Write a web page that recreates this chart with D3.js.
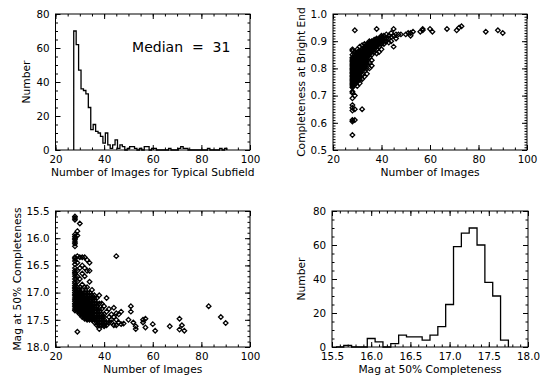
<!DOCTYPE html>
<html>
<head>
<meta charset="utf-8">
<script src="https://cdn.jsdelivr.net/npm/d3@7"></script>
<style>
  body { margin: 0; background: #fff; }
  svg text { font-family: "DejaVu Sans", sans-serif; fill: #000; }
</style>
</head>
<body>
<div id="chart"></div>
<script>
// ---- data ----
// histogram of number of images (bin centres, counts)
var nBins = d3.range(28, 91);
var nCounts = [70, 62, 47, 36, 35, 33, 25, 12, 15, 11, 10, 8, 4, 10, 3, 1, 3, 6, 1, 3,
               2, 0, 1, 2, 2, 1, 0, 1, 0, 2, 2, 0, 1, 1, 0, 0, 0, 0, 0, 1,
               0, 0, 0, 1, 2, 1, 1, 0, 0, 0, 0, 0, 0, 0, 0, 1, 0, 0, 0, 0,
               1, 0, 1];
var medianN = 31;

// histogram of mag at 50% completeness
var magBins = [15.6, 15.7, 15.8, 15.9, 16.0, 16.1, 16.2, 16.3, 16.4, 16.5, 16.6,
               16.7, 16.8, 16.9, 17.0, 17.1, 17.2, 17.3, 17.4, 17.5, 17.6, 17.7];
var magCounts = [0, 1, 0, 0, 5, 3, 0, 2, 7, 6, 6, 4, 7, 12, 25, 59, 67, 70, 60, 38, 30, 4];

// scatter: [number of images, completeness at bright end]
var brightPts = [
  [28,0.555],[28,0.605],[28,0.61],[28,0.645],[28,0.655],[28,0.665],[28,0.69],[28,0.71],[28,0.715],
  [28,0.73],[28,0.735],[28,0.74],[28,0.745],[28,0.75],[28,0.755],[28,0.76],[28,0.765],[28,0.77],
  [28,0.775],[28,0.78],[28,0.785],[28,0.79],[28,0.795],[28,0.80],[28,0.805],[28,0.81],[28,0.815],
  [28,0.82],[28,0.825],[28,0.83],[28,0.835],[28,0.84],[28,0.85],[28,0.865],[28,0.87],
  [29,0.61],[29,0.65],[29,0.70],[29,0.74],[29,0.75],[29,0.76],[29,0.77],[29,0.78],[29,0.79],
  [29,0.80],[29,0.81],[29,0.82],[29,0.83],[29,0.84],[29,0.85],[29,0.86],[29,0.94],
  [29,0.745],[29,0.755],[29,0.765],[29,0.775],[29,0.785],[29,0.795],[29,0.805],[29,0.815],
  [29,0.825],[29,0.835],[29,0.845],
  [30,0.735],[30,0.75],[30,0.76],[30,0.77],[30,0.78],[30,0.79],[30,0.80],[30,0.81],[30,0.82],
  [30,0.83],[30,0.84],[30,0.85],[30,0.86],[30,0.87],
  [30,0.755],[30,0.765],[30,0.775],[30,0.785],[30,0.795],[30,0.805],[30,0.815],[30,0.825],
  [30,0.835],[30,0.845],[30,0.855],
  [31,0.745],[31,0.76],[31,0.77],[31,0.78],[31,0.79],[31,0.80],[31,0.81],[31,0.82],[31,0.83],
  [31,0.84],[31,0.85],[31,0.86],[31,0.88],
  [31,0.775],[31,0.785],[31,0.795],[31,0.805],[31,0.815],[31,0.825],[31,0.835],[31,0.845],
  [31,0.855],[31,0.865],
  [32,0.65],[32,0.76],[32,0.775],[32,0.79],[32,0.80],[32,0.81],[32,0.82],[32,0.83],[32,0.84],
  [32,0.85],[32,0.86],[32,0.87],[32,0.885],
  [32,0.795],[32,0.805],[32,0.815],[32,0.825],[32,0.835],[32,0.845],[32,0.855],[32,0.865],
  [33,0.77],[33,0.79],[33,0.80],[33,0.81],[33,0.82],[33,0.83],[33,0.84],[33,0.85],[33,0.86],
  [33,0.87],[33,0.88],[33,0.89],
  [33,0.805],[33,0.815],[33,0.825],[33,0.835],[33,0.845],[33,0.855],[33,0.865],[33,0.875],
  [34,0.78],[34,0.80],[34,0.82],[34,0.83],[34,0.84],[34,0.85],[34,0.86],[34,0.87],[34,0.88],[34,0.89],
  [34,0.815],[34,0.835],[34,0.845],[34,0.855],[34,0.865],[34,0.875],[34,0.885],
  [35,0.80],[35,0.82],[35,0.84],[35,0.85],[35,0.86],[35,0.87],[35,0.88],[35,0.89],[35,0.90],
  [35,0.855],[35,0.865],[35,0.875],[35,0.885],[35,0.895],
  [36,0.81],[36,0.83],[36,0.85],[36,0.86],[36,0.87],[36,0.88],[36,0.89],[36,0.90],
  [36,0.865],[36,0.875],[36,0.885],[36,0.895],
  [37,0.86],[37,0.87],[37,0.88],[37,0.89],[37,0.90],[37,0.875],[37,0.885],[37,0.895],[37,0.905],
  [38,0.855],[38,0.87],[38,0.88],[38,0.89],[38,0.90],[38,0.91],[38,0.945],[38,0.885],[38,0.895],
  [39,0.86],[39,0.88],[39,0.89],[39,0.90],[39,0.91],[39,0.895],[39,0.905],
  [40,0.87],[40,0.89],[40,0.90],[40,0.91],[40,0.92],[40,0.905],[40,0.915],
  [41,0.89],[41,0.90],[41,0.91],[41,0.92],
  [42,0.90],[42,0.91],[42,0.925],
  [43,0.895],[43,0.91],[43,0.92],
  [44,0.90],[44,0.915],[44,0.93],
  [45,0.88],[45,0.92],[45,0.945],
  [46,0.91],[46,0.925],[47,0.925],[48,0.925],[50,0.925],[51,0.93],[52,0.92],[52,0.93],
  [53,0.935],[56,0.935],[57,0.94],[57,0.945],[60,0.945],[61,0.935],[67,0.945],
  [71,0.94],[72,0.95],[73,0.955],[83,0.935],[88,0.94],[90,0.93]
];

// scatter: [number of images, mag at 50% completeness]
var magPts = [
  [28,15.6],[28,15.63],[28,15.66],[28,15.93],[28,15.97],[28,16.0],[28,16.03],[28,16.07],[28,16.1],
  [28,16.15],[28,16.35],[28,16.38],[28,16.42],[28,16.48],[28,16.55],[28,16.6],[28,16.63],[28,16.66],
  [28,16.7],[28,16.75],[28,16.8],[28,16.83],[28,16.87],[28,16.9],[28,16.93],[28,16.96],[28,17.0],
  [28,17.03],[28,17.06],[28,17.1],[28,17.13],[28,17.16],[28,17.2],[28,17.23],[28,17.26],[28,17.3],[28,17.33],
  [29,15.87],[29,15.95],[29,16.33],[29,16.45],[29,16.6],[29,16.7],[29,16.8],[29,16.9],[29,16.95],
  [29,17.0],[29,17.05],[29,17.1],[29,17.15],[29,17.2],[29,17.25],[29,17.3],[29,17.35],[29,17.72],
  [29,17.02],[29,17.07],[29,17.12],[29,17.17],[29,17.22],[29,17.27],[29,17.32],
  [30,15.73],[30,16.35],[30,16.55],[30,16.75],[30,16.9],[30,17.0],[30,17.05],[30,17.1],[30,17.15],
  [30,17.2],[30,17.25],[30,17.3],[30,17.35],[30,17.4],
  [30,16.95],[30,17.02],[30,17.07],[30,17.12],[30,17.17],[30,17.22],[30,17.27],[30,17.32],[30,17.37],
  [31,16.35],[31,16.5],[31,16.65],[31,16.85],[31,16.95],[31,17.05],[31,17.1],[31,17.15],[31,17.2],
  [31,17.25],[31,17.3],[31,17.35],[31,17.4],[31,17.45],
  [31,17.02],[31,17.07],[31,17.12],[31,17.17],[31,17.22],[31,17.27],[31,17.32],[31,17.37],[31,17.42],
  [32,16.35],[32,16.55],[32,16.7],[32,16.9],[32,17.0],[32,17.1],[32,17.15],[32,17.2],[32,17.25],
  [32,17.3],[32,17.35],[32,17.4],[32,17.45],
  [32,17.05],[32,17.12],[32,17.17],[32,17.22],[32,17.27],[32,17.32],[32,17.37],[32,17.42],[32,17.48],
  [33,16.4],[33,16.6],[33,16.9],[33,17.0],[33,17.1],[33,17.15],[33,17.2],[33,17.25],[33,17.3],
  [33,17.35],[33,17.4],[33,17.45],[33,17.5],
  [33,17.05],[33,17.12],[33,17.17],[33,17.22],[33,17.27],[33,17.32],[33,17.37],[33,17.42],[33,17.48],
  [34,16.45],[34,16.6],[34,16.8],[34,17.0],[34,17.1],[34,17.2],[34,17.25],[34,17.3],[34,17.35],
  [34,17.4],[34,17.45],[34,17.5],
  [34,17.05],[34,17.15],[34,17.22],[34,17.27],[34,17.32],[34,17.37],[34,17.42],[34,17.48],
  [35,16.95],[35,17.05],[35,17.15],[35,17.25],[35,17.3],[35,17.35],[35,17.4],[35,17.45],[35,17.5],
  [35,17.1],[35,17.2],[35,17.27],[35,17.32],[35,17.37],[35,17.42],[35,17.48],
  [36,17.05],[36,17.1],[36,17.2],[36,17.3],[36,17.35],[36,17.45],[36,17.5],[36,17.55],
  [36,17.15],[36,17.25],[36,17.4],[36,17.48],
  [37,17.1],[37,17.2],[37,17.3],[37,17.4],[37,17.5],[37,17.55],[37,17.6],[37,17.25],[37,17.35],[37,17.45],
  [38,17.05],[38,17.2],[38,17.35],[38,17.45],[38,17.55],[38,17.6],[38,17.67],[38,17.3],[38,17.4],[38,17.5],
  [39,17.2],[39,17.3],[39,17.4],[39,17.5],[39,17.55],[39,17.6],[39,17.45],
  [40,17.25],[40,17.4],[40,17.5],[40,17.55],[40,17.6],[40,17.62],[40,17.45],
  [41,17.1],[41,17.35],[41,17.55],[41,17.6],
  [42,17.3],[42,17.45],[42,17.55],[43,17.4],[43,17.5],[43,17.55],
  [44,17.28],[44,17.45],[44,17.6],[45,16.33],[45,17.38],[45,17.5],[45,17.6],
  [46,17.4],[46,17.55],[47,17.35],[47,17.58],[48,17.57],[50,17.5],[51,17.25],[51,17.35],
  [52,17.55],[53,17.62],[53,17.67],[56,17.5],[56,17.55],[57,17.48],[57,17.64],[60,17.58],
  [61,17.7],[67,17.62],[71,17.48],[71,17.68],[72,17.6],[73,17.7],[83,17.25],[88,17.45],[90,17.56]
];

// tick labels
var nTicks = [20, 40, 60, 80, 100];
var countTicks = [0, 20, 40, 60, 80];
var complTicks = [0.5, 0.6, 0.7, 0.8, 0.9, 1.0];
var magTicks = [15.5, 16.0, 16.5, 17.0, 17.5, 18.0];

var width = 545, height = 379;
var svg = d3.select("#chart").append("svg")
    .attr("width", width).attr("height", height);

var diamond = "M0,-2.3L2.3,0L0,2.3L-2.3,0Z";

// draws an IDL style box with inward ticks on all sides
function makePanel(p) {
    var g = svg.append("g").attr("transform", "translate(" + p.left + "," + p.top + ")");
    var x = d3.scaleLinear().domain(p.xDomain).range([0, p.w]);
    var y = d3.scaleLinear().domain(p.yDomain).range([p.h, 0]);

    function ax(axis, ticks, size, fmt, tr) {
        var a = g.append("g").attr("transform", tr || null)
            .call(axis.tickValues(ticks).tickSize(-size).tickSizeOuter(0)
                .tickPadding(6).tickFormat(fmt));
        a.select(".domain").remove();
        a.selectAll("line").attr("stroke", "#000").attr("stroke-width", 1);
        a.selectAll("text").attr("font-size", "10.3px").attr("fill", "#000")
            .style("font-family", "DejaVu Sans, sans-serif");
        return a;
    }
    var none = function() { return ""; };
    ax(d3.axisBottom(x), p.xTicks, 5, p.xFmt, "translate(0," + p.h + ")");
    ax(d3.axisBottom(x), p.xMinor, 2.5, none, "translate(0," + p.h + ")");
    ax(d3.axisTop(x), p.xTicks, 5, none);
    ax(d3.axisTop(x), p.xMinor, 2.5, none);
    ax(d3.axisLeft(y), p.yTicks, 5, p.yFmt).selectAll("text").attr("x", -6);
    ax(d3.axisLeft(y), p.yMinor, 2.5, none);
    ax(d3.axisRight(y), p.yTicks, 5, none, "translate(" + p.w + ",0)");
    ax(d3.axisRight(y), p.yMinor, 2.5, none, "translate(" + p.w + ",0)");

    g.append("rect").attr("width", p.w).attr("height", p.h)
        .attr("fill", "none").attr("stroke", "#000").attr("stroke-width", 1);

    g.append("text").attr("x", p.w / 2).attr("y", p.h + 26)
        .attr("text-anchor", "middle").attr("font-size", "10.7px").text(p.xTitle);
    g.append("text").attr("transform", "translate(" + (-p.yTitleOff) + "," + (p.h / 2) + ") rotate(-90)")
        .attr("text-anchor", "middle").attr("font-size", "10.7px").text(p.yTitle);
    return { g: g, x: x, y: y };
}

function drawHist(P, centres, counts, bw) {
    var pts = [[centres[0] - bw / 2, 0]];
    centres.forEach(function(c, i) {
        pts.push([c - bw / 2, counts[i]]);
        pts.push([c + bw / 2, counts[i]]);
    });
    pts.push([centres[centres.length - 1] + bw / 2, 0]);
    var line = d3.line()
        .x(function(d) { return P.x(d[0]); })
        .y(function(d) { return P.y(d[1]); });
    P.g.append("path").attr("d", line(pts))
        .attr("fill", "none").attr("stroke", "#000").attr("stroke-width", 1.3);
}

function drawScatter(P, pts) {
    P.g.selectAll("path.pt").data(pts).enter().append("path")
        .attr("class", "pt")
        .attr("d", diamond)
        .attr("transform", function(d) { return "translate(" + P.x(d[0]) + "," + P.y(d[1]) + ")"; })
        .attr("fill", "none").attr("stroke", "#000").attr("stroke-width", 1.3);
}

var nMinor = d3.range(20, 101, 5);
var countMinor = d3.range(0, 81, 5);
var fmtInt = d3.format("d"), fmt1 = d3.format(".1f");

// top left: histogram of number of images
var p1 = makePanel({
    left: 55.5, top: 14, w: 194.5, h: 136,
    xDomain: [20, 100], yDomain: [0, 80],
    xTicks: nTicks, xMinor: nMinor, yTicks: countTicks, yMinor: countMinor,
    xFmt: fmtInt, yFmt: fmtInt,
    xTitle: "Number of Images for Typical Subfield", yTitle: "Number", yTitleOff: 26
});
drawHist(p1, nBins, nCounts, 1);
p1.g.append("text").attr("x", p1.x(51.5)).attr("y", p1.y(57.5))
    .attr("font-size", "14px").attr("xml:space", "preserve")
    .text("Median  =  " + medianN);

// top right: completeness at bright end
var p2 = makePanel({
    left: 333, top: 14, w: 194, h: 136,
    xDomain: [20, 100], yDomain: [0.5, 1.0],
    xTicks: nTicks, xMinor: nMinor, yTicks: complTicks,
    yMinor: d3.range(50, 101).map(function(v) { return v / 100; }),
    xFmt: fmtInt, yFmt: fmt1,
    xTitle: "Number of Images", yTitle: "Completeness at Bright End", yTitleOff: 28
});
drawScatter(p2, brightPts);

// bottom left: mag at 50% completeness vs number of images
var p3 = makePanel({
    left: 55.5, top: 211, w: 194.5, h: 136,
    xDomain: [20, 100], yDomain: [18.0, 15.5],
    xTicks: nTicks, xMinor: nMinor, yTicks: magTicks,
    yMinor: d3.range(155, 181).map(function(v) { return v / 10; }),
    xFmt: fmtInt, yFmt: fmt1,
    xTitle: "Number of Images", yTitle: "Mag at 50% Completeness", yTitleOff: 35
});
drawScatter(p3, magPts);

// bottom right: histogram of mag at 50% completeness
var p4 = makePanel({
    left: 332, top: 211, w: 196, h: 136,
    xDomain: [15.5, 18.0], yDomain: [0, 80],
    xTicks: magTicks, xMinor: d3.range(155, 181).map(function(v) { return v / 10; }),
    yTicks: countTicks, yMinor: countMinor,
    xFmt: fmt1, yFmt: fmtInt,
    xTitle: "Mag at 50% Completeness", yTitle: "Number", yTitleOff: 27
});
drawHist(p4, magBins, magCounts, 0.1);
</script>
</body>
</html>
